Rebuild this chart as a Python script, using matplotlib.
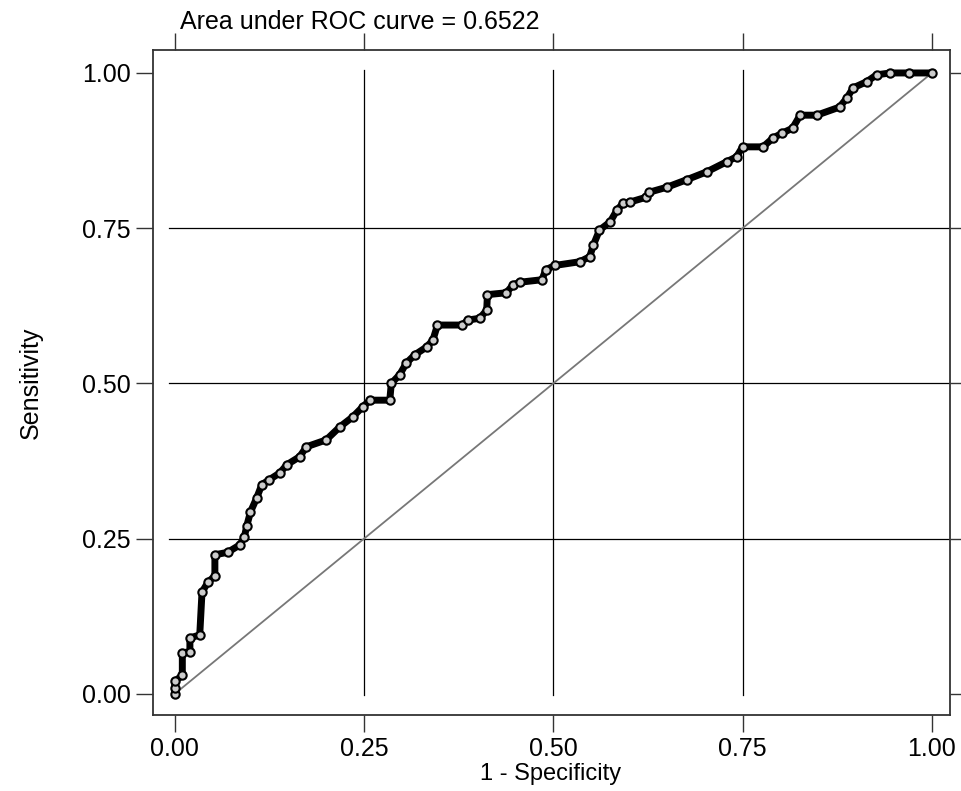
import matplotlib
matplotlib.use("Agg")
import matplotlib.pyplot as plt

plt.rcParams['font.family'] = ['Liberation Sans', 'DejaVu Sans']

# ROC curve vertices (1 - specificity, sensitivity)
fpr = [0.000, 0.000, 0.000, 0.010, 0.010, 0.020, 0.020, 0.033, 0.036, 0.044,
       0.053, 0.053, 0.070, 0.086, 0.092, 0.095, 0.100, 0.108, 0.115, 0.125,
       0.139, 0.148, 0.165, 0.174, 0.200, 0.218, 0.235, 0.248, 0.258, 0.284,
       0.286, 0.297, 0.306, 0.317, 0.333, 0.341, 0.347, 0.380, 0.387, 0.403,
       0.412, 0.413, 0.438, 0.447, 0.456, 0.485, 0.490, 0.502, 0.535, 0.548,
       0.553, 0.561, 0.575, 0.584, 0.592, 0.601, 0.623, 0.627, 0.650, 0.676,
       0.703, 0.729, 0.742, 0.750, 0.777, 0.790, 0.802, 0.816, 0.826, 0.848,
       0.878, 0.888, 0.896, 0.914, 0.927, 0.945, 0.970, 1.000]
tpr = [0.000, 0.010, 0.020, 0.030, 0.066, 0.068, 0.090, 0.095, 0.164, 0.180,
       0.190, 0.224, 0.228, 0.240, 0.253, 0.270, 0.293, 0.315, 0.337, 0.345,
       0.356, 0.369, 0.382, 0.398, 0.409, 0.430, 0.446, 0.462, 0.473, 0.473,
       0.500, 0.514, 0.533, 0.546, 0.559, 0.570, 0.594, 0.594, 0.602, 0.605,
       0.618, 0.643, 0.646, 0.659, 0.663, 0.667, 0.683, 0.690, 0.696, 0.704,
       0.723, 0.747, 0.760, 0.779, 0.790, 0.792, 0.800, 0.808, 0.816, 0.828,
       0.841, 0.857, 0.865, 0.881, 0.881, 0.895, 0.903, 0.911, 0.932, 0.932,
       0.945, 0.960, 0.976, 0.986, 0.997, 1.000, 1.000, 1.000]

ref_line = [0.0, 1.0]
ticks = [0.0, 0.25, 0.5, 0.75, 1.0]
tick_labels = ["0.00", "0.25", "0.50", "0.75", "1.00"]
grid_vals = [0.25, 0.5, 0.75]

fig = plt.figure(figsize=(9.61, 7.91), dpi=100)
ax = fig.add_axes([0.159, 0.0961, 0.8296, 0.8407])

for g in grid_vals:
    ax.axhline(g, xmin=0.02, xmax=1.0, color='black', lw=0.9, zorder=1)
    ax.axvline(g, ymin=0.03, ymax=0.97, color='black', lw=0.9, zorder=1)

ax.plot(ref_line, ref_line, color='#777777', lw=1.3, zorder=2)
ax.plot(fpr, tpr, color='black', lw=5.0, solid_joinstyle='round', zorder=3)
ax.plot(fpr, tpr, linestyle='none', marker='o', ms=6, mfc='#cccccc',
        mec='black', mew=1.5, zorder=4)

ax.set_xlim(-0.029, 1.024)
ax.set_ylim(-0.034, 1.037)
ax.set_xticks(ticks)
ax.set_xticklabels(tick_labels)
ax.set_yticks(ticks)
ax.set_yticklabels(tick_labels)
ax.tick_params(direction='out', length=12, width=1, labelsize=18, color='#333333',
               top=True, right=True, labeltop=False, labelright=False, pad=4)
for s in ax.spines.values():
    s.set_color('#333333')
    s.set_linewidth(1.3)

fig.text(0.573, 0.021, "1 - Specificity", fontsize=17, ha='center', va='center')
ax.set_ylabel("Sensitivity", fontsize=18, labelpad=28)
fig.text(0.187, 0.972, "Area under ROC curve = 0.6522", fontsize=18,
         ha='left', va='center')

fig.savefig("out.png", dpi=100, facecolor='white')
